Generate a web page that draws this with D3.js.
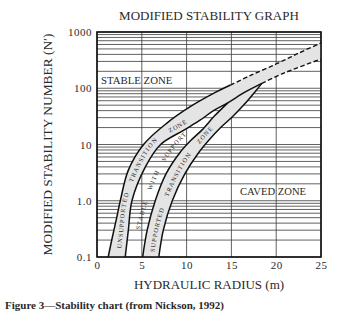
<!DOCTYPE html>
<html>
<head>
<meta charset="utf-8">
<script src="https://cdn.jsdelivr.net/npm/d3@7"></script>
<style>
  body { margin: 0; background: #fff; }
  svg { display: block; }
  text { font-family: "Liberation Serif", "DejaVu Serif", serif; fill: #2a2a2a; }
</style>
</head>
<body>
<svg id="chart"></svg>
<script>
const hrTicks = [0, 5, 10, 15, 20, 25];
const nTicks = [0.1, 1, 10, 100, 1000];
const nTickLabels = ['0.1', '1.0', '10', '100', '1000'];

// boundary curves as [hydraulic radius (m), N']
const unsupportedUpper = [[1.25, 0.1], [1.7, 0.22], [2.2, 0.5], [2.6, 1], [3.5, 3.5], [5.2, 10], [7.8, 24], [10.4, 47], [13, 81], [14.9, 114]];
const unsupportedUpperDashed = [[14.9, 114], [17, 165], [20, 270], [22.5, 420], [25, 640]];
const unsupportedLower = [[3.15, 0.1], [3.5, 0.3], [3.9, 1], [5.4, 4], [7.1, 10], [9.7, 18], [11.5, 27], [13, 40], [14.6, 55], [16.5, 85], [18.4, 122]];
const lowerDashed = [[18.4, 122], [21, 190], [25, 330]];
const supportedUpper = [[5.1, 0.1], [5.6, 0.3], [6.5, 1], [7.7, 3], [9.2, 7], [10.4, 11.5], [11.7, 18], [13.1, 32], [14.6, 55]];
const supportedLower = [[6.9, 0.1], [7.4, 0.3], [8.4, 1], [9.8, 3], [11.3, 7], [12.5, 12], [13.8, 20], [15.2, 32], [16.6, 55], [17.6, 85], [18.4, 122]];

const width = 349;
const height = 320;
const margin = { top: 32, right: 28, bottom: 63, left: 97 };

const svg = d3.select('#chart').attr('width', width).attr('height', height);

const x = d3.scaleLinear().domain([0, 25]).range([margin.left, width - margin.right]);
const y = d3.scaleLog().domain([0.1, 1000]).range([height - margin.bottom, margin.top]);

const line = d3.line()
  .x(d => x(d[0]))
  .y(d => y(d[1]))
  .curve(d3.curveCatmullRom.alpha(0.5));

// closed band between two boundary curves
const band = (upper, lower) =>
  line(upper) + 'L' + line(lower.slice().reverse()).slice(1) + 'Z';

// grid
const grid = svg.append('g').attr('stroke', '#3a3a3a').attr('stroke-width', 0.8);
const gridValues = [];
[0.1, 1, 10, 100].forEach(d => { for (let k = 1; k <= 9; k++) gridValues.push(d * k); });
gridValues.push(1000);
grid.selectAll('.h')
  .data(gridValues)
  .enter()
  .append('line')
  .attr('x1', x(0)).attr('x2', x(25))
  .attr('y1', d => y(d)).attr('y2', d => y(d));
grid.selectAll('.v')
  .data(hrTicks)
  .enter()
  .append('line')
  .attr('x1', d => x(d)).attr('x2', d => x(d))
  .attr('y1', y(0.1)).attr('y2', y(1000));

// shaded zones
const fillColor = '#e4e4e4';
const upperFull = unsupportedUpper.concat(unsupportedUpperDashed.slice(1));
const lowerFull = unsupportedLower.concat(lowerDashed.slice(1));
svg.append('path')
  .attr('d', band(upperFull, lowerFull))
  .attr('fill', fillColor);
const junction = supportedUpper[supportedUpper.length - 1][0];
const supportedTop = supportedUpper.concat(unsupportedLower.filter(d => d[0] > junction));
svg.append('path')
  .attr('d', band(supportedTop, supportedLower))
  .attr('fill', fillColor);

// boundary lines
const solid = [
  ['c1', unsupportedUpper],
  ['c2', unsupportedLower],
  ['c3', supportedUpper],
  ['c4', supportedLower]
];
svg.append('g')
  .selectAll('path')
  .data(solid)
  .enter()
  .append('path')
  .attr('id', d => d[0])
  .attr('d', d => line(d[1]))
  .attr('fill', 'none')
  .attr('stroke', '#111')
  .attr('stroke-width', 1.5);

svg.append('g')
  .selectAll('path')
  .data([unsupportedUpperDashed, lowerDashed])
  .enter()
  .append('path')
  .attr('d', d => line(d))
  .attr('fill', 'none')
  .attr('stroke', '#111')
  .attr('stroke-width', 1.4)
  .attr('stroke-dasharray', '4.5,2.5');

// zone labels along the bands, one word at a time
const bandWords = [
  { path: 'c2', text: 'UNSUPPORTED', offset: 8, dy: -5 },
  { path: 'c2', text: 'TRANSITION', offset: 74, dy: -5 },
  { path: 'c2', text: 'ZONE', offset: 134, dy: -4.5 },
  { path: 'c3', text: 'STABLE', offset: 26, dy: -7 },
  { path: 'c3', text: 'WITH', offset: 66, dy: -7 },
  { path: 'c3', text: 'SUPPORT', offset: 96, dy: -7 },
  { path: 'c4', text: 'SUPPORTED', offset: 4, dy: -5 },
  { path: 'c4', text: 'TRANSITION', offset: 60, dy: -5 },
  { path: 'c4', text: 'ZONE', offset: 120, dy: -4.5 }
];
svg.append('g')
  .selectAll('text')
  .data(bandWords)
  .enter()
  .append('text')
  .attr('dy', d => d.dy)
  .style('font-size', '6.3px')
  .style('letter-spacing', '1px')
  .append('textPath')
  .attr('href', d => '#' + d.path)
  .attr('startOffset', d => d.offset)
  .text(d => d.text);

// frame
svg.append('rect')
  .attr('x', x(0)).attr('y', y(1000))
  .attr('width', x(25) - x(0)).attr('height', y(0.1) - y(1000))
  .attr('fill', 'none')
  .attr('stroke', '#111')
  .attr('stroke-width', 1.6);

// axes
const xAxis = svg.append('g')
  .attr('transform', `translate(0,${y(0.1)})`)
  .call(d3.axisBottom(x).tickValues(hrTicks).tickSize(0).tickPadding(4));
const yAxis = svg.append('g')
  .attr('transform', `translate(${x(0)},0)`)
  .call(d3.axisLeft(y).tickValues(nTicks).tickFormat((d, i) => nTickLabels[i]).tickSize(0).tickPadding(5));
[xAxis, yAxis].forEach(a => {
  a.select('.domain').remove();
  a.selectAll('text')
    .style('font-family', '"Liberation Serif", serif')
    .style('font-size', '11px')
    .style('letter-spacing', '0.5px')
    .attr('fill', '#2a2a2a');
});

// titles
svg.append('text')
  .attr('x', (x(0) + x(25)) / 2)
  .attr('y', 20)
  .attr('text-anchor', 'middle')
  .style('font-size', '13px')
  .text('MODIFIED STABILITY GRAPH');

svg.append('text')
  .attr('x', (x(0) + x(25)) / 2)
  .attr('y', 289)
  .attr('text-anchor', 'middle')
  .style('font-size', '13px')
  .text('HYDRAULIC RADIUS (m)');

svg.append('text')
  .attr('transform', `translate(52,${(y(0.1) + y(1000)) / 2}) rotate(-90)`)
  .attr('text-anchor', 'middle')
  .style('font-size', '13.4px')
  .text('MODIFIED STABILITY NUMBER (N\u2032)');

svg.append('text')
  .attr('x', 101)
  .attr('y', 83.5)
  .style('font-size', '10.8px')
  .text('STABLE ZONE');

svg.append('text')
  .attr('x', 240)
  .attr('y', 195)
  .style('font-size', '10.6px')
  .text('CAVED ZONE');

svg.append('text')
  .attr('x', 5)
  .attr('y', 309)
  .style('font-size', '11px')
  .style('font-weight', 'bold')
  .text('Figure 3\u2014Stability chart (from Nickson, 1992)');
</script>
</body>
</html>
